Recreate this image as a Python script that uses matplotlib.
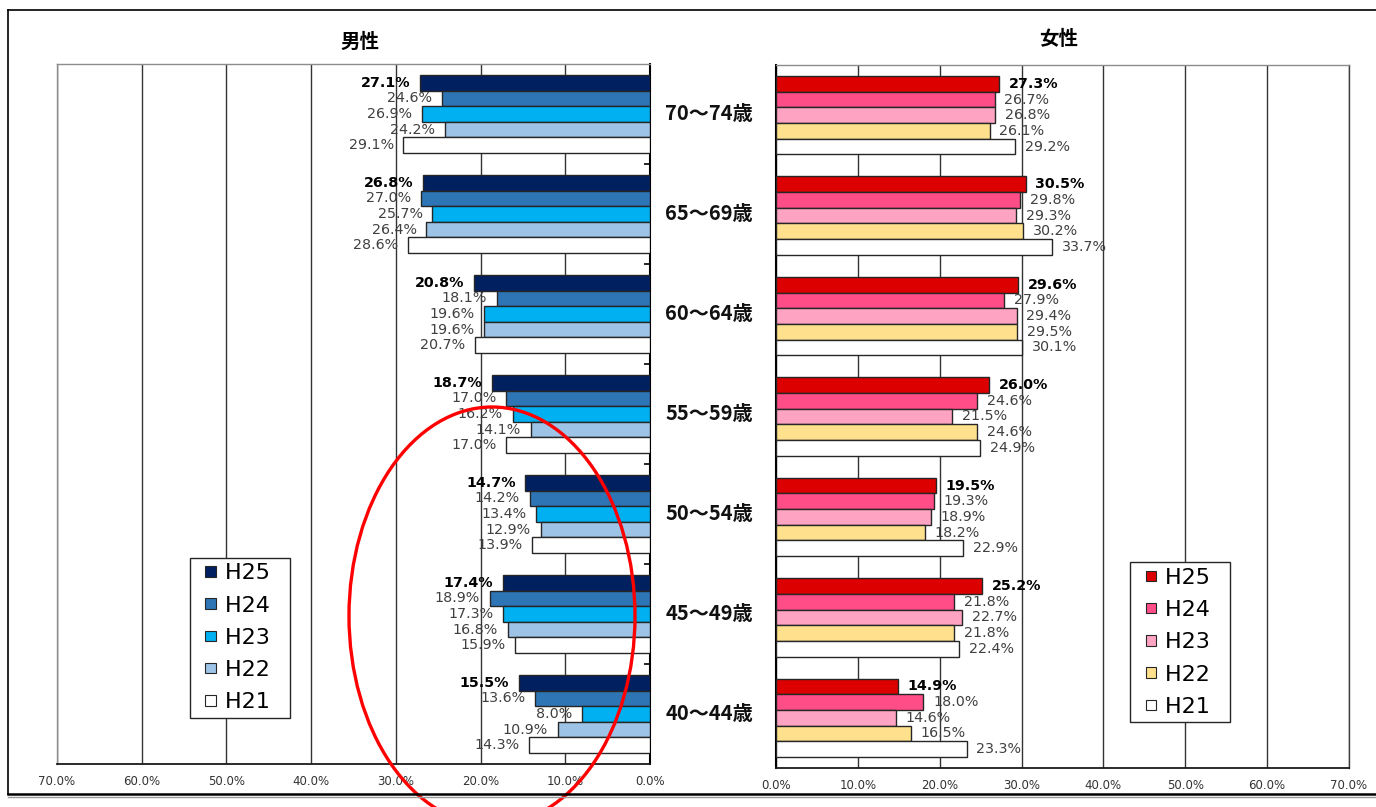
import matplotlib
matplotlib.use('Agg')
import matplotlib.pyplot as plt
from matplotlib.patches import Ellipse, Patch, Rectangle
from matplotlib.legend_handler import HandlerPatch
from matplotlib.lines import Line2D
import numpy as np

CJK = ['Noto Sans CJK JP', 'DejaVu Sans']
plt.rcParams['font.family'] = ['DejaVu Sans']

ages = ['70～74歳', '65～69歳', '60～64歳', '55～59歳', '50～54歳', '45～49歳', '40～44歳']
years = ['H25', 'H24', 'H23', 'H22', 'H21']

men = {
    'H25': [27.1, 26.8, 20.8, 18.7, 14.7, 17.4, 15.5],
    'H24': [24.6, 27.0, 18.1, 17.0, 14.2, 18.9, 13.6],
    'H23': [26.9, 25.7, 19.6, 16.2, 13.4, 17.3, 8.0],
    'H22': [24.2, 26.4, 19.6, 14.1, 12.9, 16.8, 10.9],
    'H21': [29.1, 28.6, 20.7, 17.0, 13.9, 15.9, 14.3],
}
women = {
    'H25': [27.3, 30.5, 29.6, 26.0, 19.5, 25.2, 14.9],
    'H24': [26.7, 29.8, 27.9, 24.6, 19.3, 21.8, 18.0],
    'H23': [26.8, 29.3, 29.4, 21.5, 18.9, 22.7, 14.6],
    'H22': [26.1, 30.2, 29.5, 24.6, 18.2, 21.8, 16.5],
    'H21': [29.2, 33.7, 30.1, 24.9, 22.9, 22.4, 23.3],
}
xticks = [0, 10, 20, 30, 40, 50, 60, 70]

men_colors = ['#002060', '#2E75B6', '#00B0F0', '#9DC3E6', '#FFFFFF']
women_colors = ['#DD0000', '#FF4D88', '#FFA3C2', '#FFE08C', '#FFFFFF']

W, H = 1376, 807
fig = plt.figure(figsize=(W / 100, H / 100), dpi=100)
fig.patch.set_facecolor('white')

ax_m = fig.add_axes([57 / W, 1 - 764 / H, 593 / W, 700 / H])
ax_w = fig.add_axes([776 / W, 1 - 768 / H, 573 / W, 703 / H])

n = len(ages)
group_pos = np.arange(n)[::-1]  # top group = highest y
bh = 0.156
offsets = np.array([2, 1, 0, -1, -2]) * bh


def draw_panel(ax, data, colors, side):
    for k, yr in enumerate(years):
        vals = data[yr]
        ys = group_pos + offsets[k]
        ax.barh(ys, vals, height=bh, color=colors[k], edgecolor='#262626',
                linewidth=1.0, zorder=3)
        for y, v in zip(ys, vals):
            if side == 'left':
                xytext, ha = (-7, 0), 'right'
            else:
                xytext, ha = (7, 0), 'left'
            bold = (k == 0)
            ax.annotate(f'{v:.1f}%', (v, y), textcoords='offset points',
                        xytext=xytext, ha=ha, va='center', fontsize=10.3,
                        color='black' if bold else '#404040',
                        fontweight='bold' if bold else 'normal', zorder=4)
    ax.set_xlim(0, 70)
    ax.set_ylim(-0.5, n - 0.5)
    ax.set_xticks(xticks)
    ax.set_xticklabels([f'{t:.1f}%' for t in xticks], fontsize=8.5, color='#333333')
    ax.tick_params(axis='x', length=0, pad=8)
    ax.grid(axis='x', color='#333333', linewidth=1.0, zorder=0)
    ax.set_axisbelow(True)
    for s in ax.spines.values():
        s.set_color('#8c8c8c')
        s.set_linewidth(1.0)
    ax.spines['bottom'].set_color('#1a1a1a')
    ax.spines['bottom'].set_linewidth(1.3)


draw_panel(ax_m, men, men_colors, 'left')
draw_panel(ax_w, women, women_colors, 'right')

ax_m.invert_xaxis()
ax_m.spines['right'].set_color('black')
ax_m.spines['right'].set_linewidth(1.5)
ax_m.yaxis.tick_right()
ax_m.set_yticks(np.arange(n - 1) + 0.5)
ax_m.set_yticklabels([])
ax_m.tick_params(axis='y', direction='in', length=4, color='black', width=1.2)

ax_w.spines['left'].set_color('black')
ax_w.spines['left'].set_linewidth(1.5)
ax_w.spines['right'].set_color('#404040')
ax_w.set_yticks([])

# age labels in the middle
for g, lab in zip(group_pos, ages):
    y_fig = ax_m.transData.transform((0, g))[1] / H
    fig.text(709 / W, y_fig, lab, ha='center', va='center', fontsize=14.5,
             fontweight='bold', family=CJK, color='#111111')

fig.text(360 / W, 1 - 42 / H, '男性', ha='center', va='center', fontsize=14,
         fontweight='bold', family=CJK)
fig.text(1059 / W, 1 - 39 / H, '女性', ha='center', va='center', fontsize=14,
         fontweight='bold', family=CJK)


def small_square(legend, orig_handle, xdescent, ydescent, width, height, fontsize):
    s = 7.5
    return Rectangle((-xdescent + width - s, -ydescent + (height - s) / 2), s, s)


def add_legend(ax, colors, anchor):
    handles = [Patch(facecolor=c, edgecolor='#262626', linewidth=0.8) for c in colors]
    leg = ax.legend(handles, [y + '  ' for y in years], loc='lower left',
                    bbox_to_anchor=anchor, fontsize=16, frameon=True,
                    fancybox=False, framealpha=1, edgecolor='#262626',
                    handlelength=0.92, handleheight=0.5, handletextpad=0.4,
                    labelspacing=0.55, borderpad=0.25, borderaxespad=0,
                    handler_map={Patch: HandlerPatch(patch_func=small_square)})
    leg.get_frame().set_linewidth(1.0)
    leg.set_zorder(5)


add_legend(ax_m, men_colors, (0.224, 0.066))
add_legend(ax_w, women_colors, (0.618, 0.065))

# overlay for outer frame and the red ellipse
ov = fig.add_axes([0, 0, 1, 1], zorder=10)
ov.set_xlim(0, W)
ov.set_ylim(H, 0)
ov.axis('off')
ov.patch.set_alpha(0)
ov.add_line(Line2D([8, W], [10, 10], color='black', lw=1.2))
ov.add_line(Line2D([8, 8], [10, 794], color='black', lw=1.2))
ov.add_line(Line2D([8, W], [794, 794], color='black', lw=1.8))
ov.add_line(Line2D([8, W], [797, 797], color='#999999', lw=1.0))
ov.add_patch(Ellipse((492, 616), 286, 418, fill=False, edgecolor='#FF0000',
                     linewidth=2.4, clip_on=False))

fig.savefig('out.png', dpi=100)
